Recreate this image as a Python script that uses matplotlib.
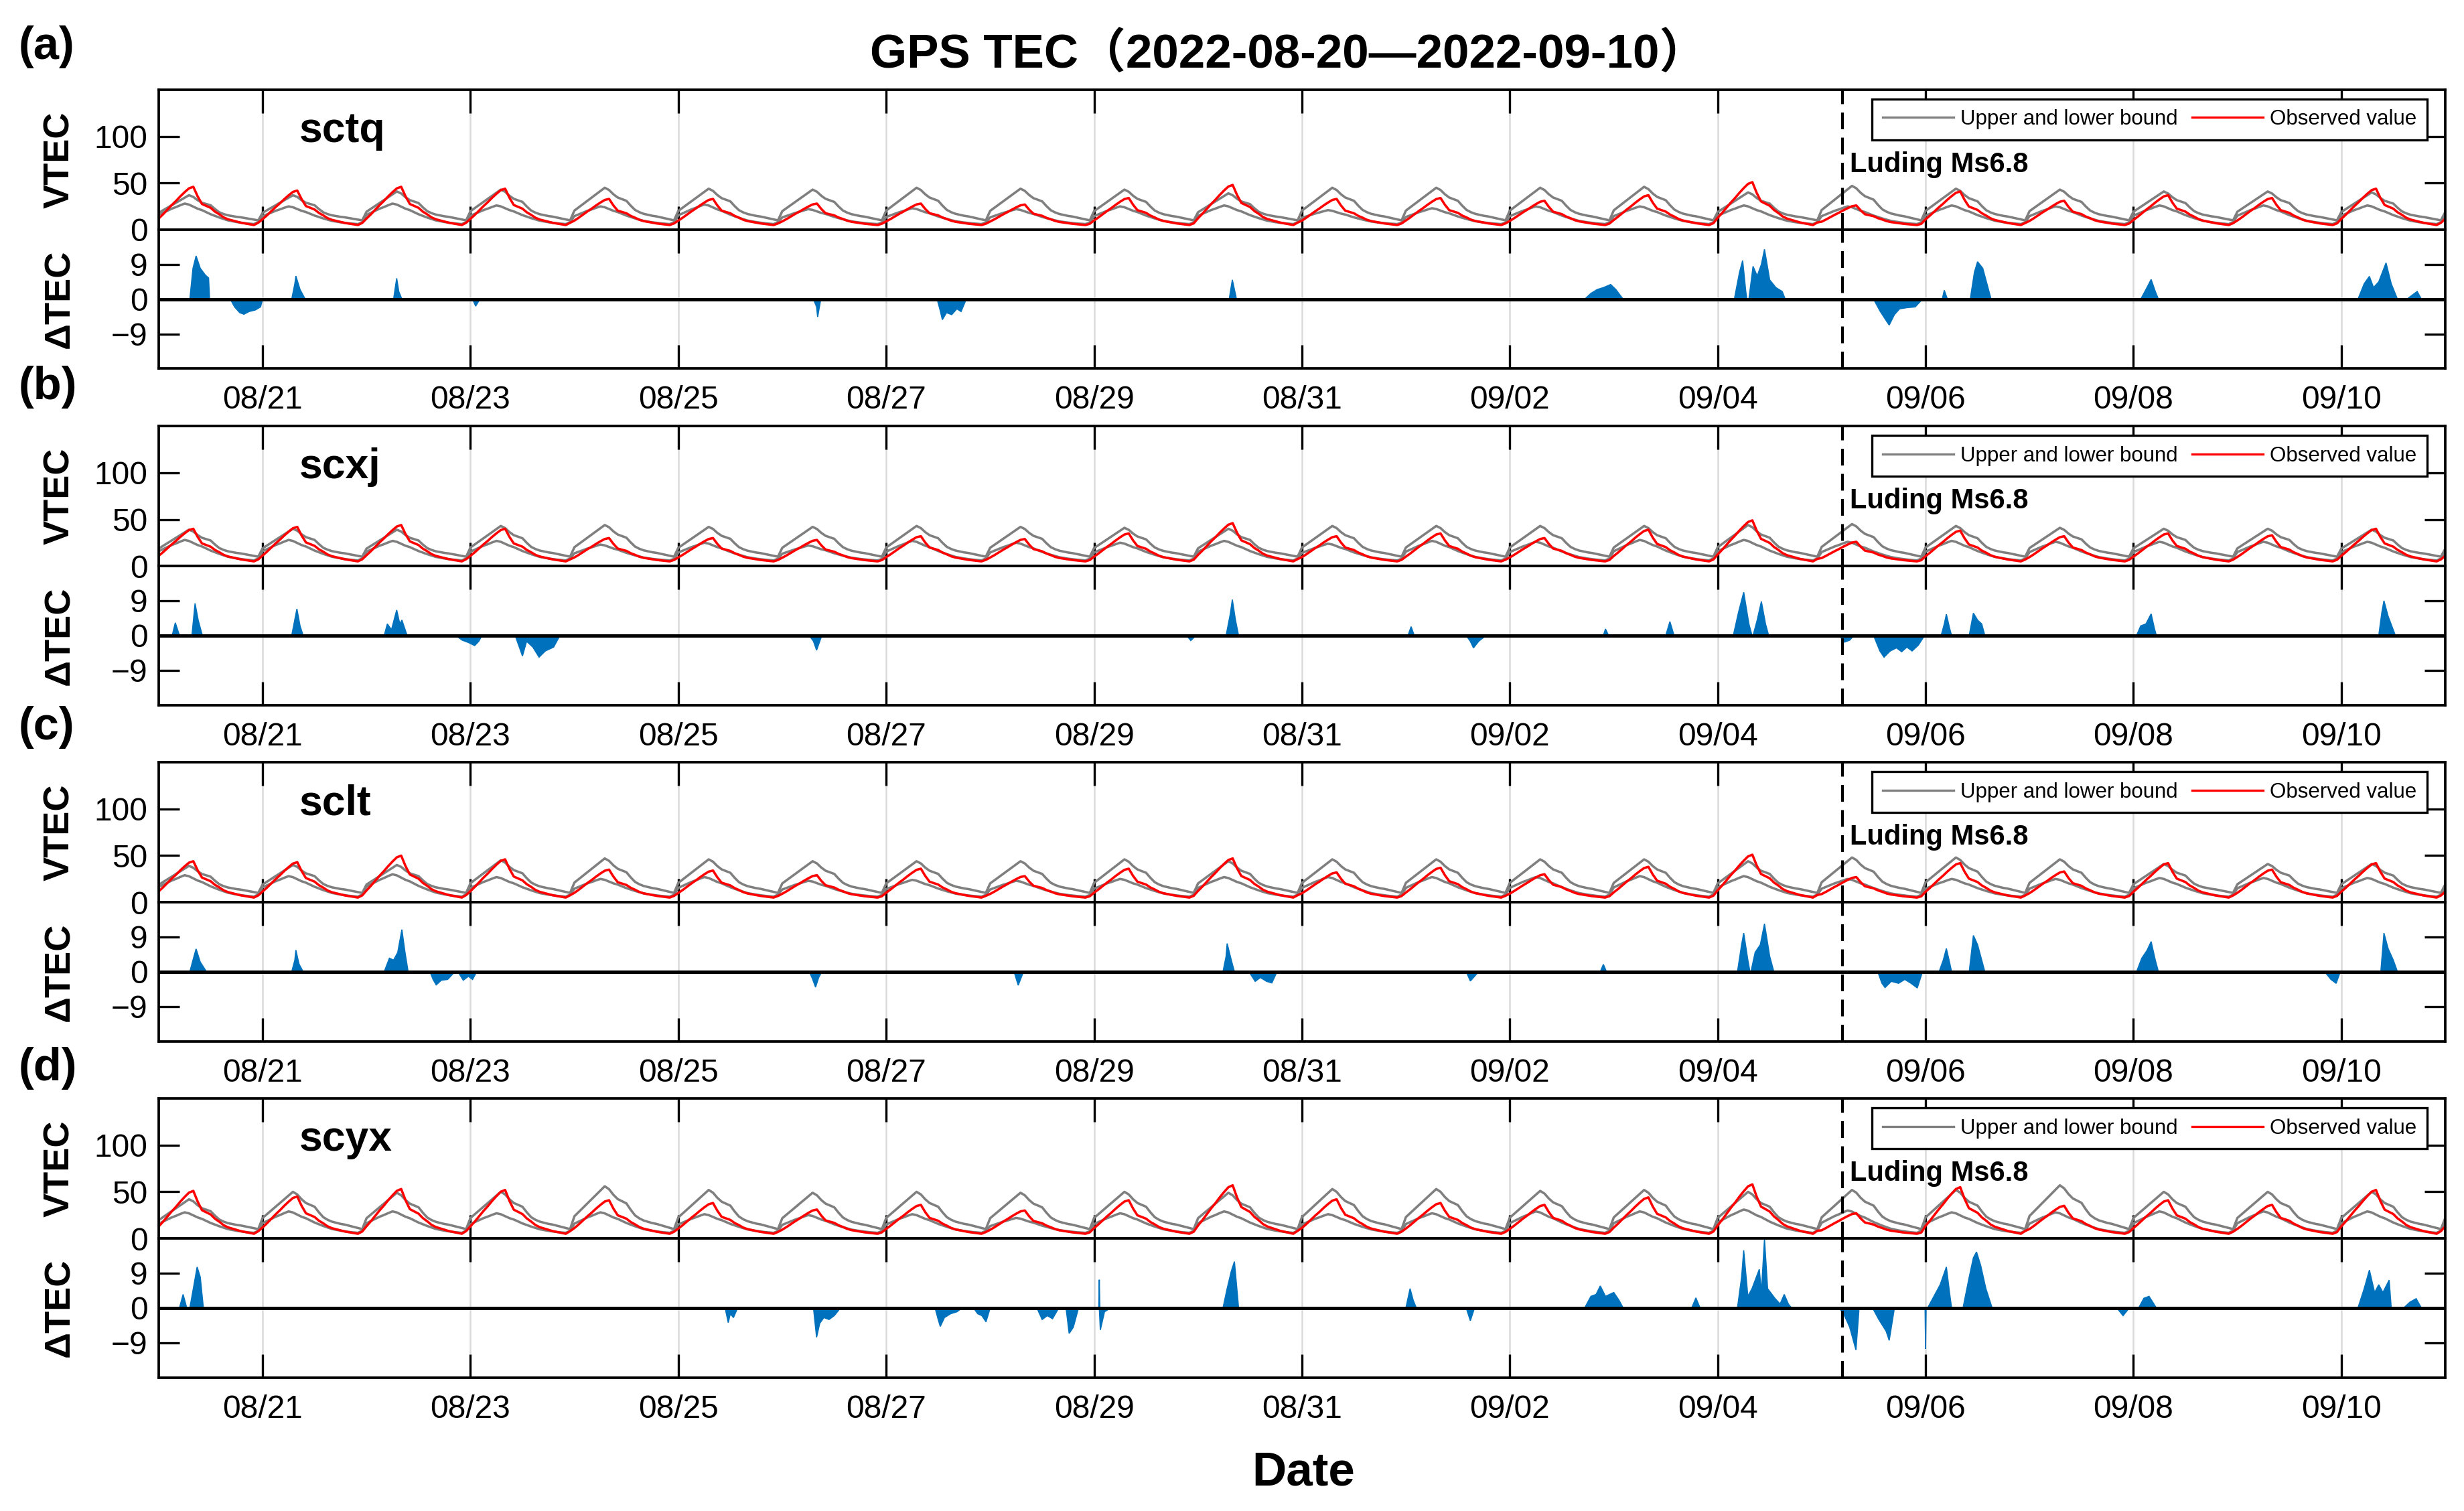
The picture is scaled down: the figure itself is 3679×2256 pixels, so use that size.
import numpy as np
import matplotlib
matplotlib.use("Agg")
import matplotlib.pyplot as plt
from matplotlib.lines import Line2D

plt.rcParams['font.family'] = ['Liberation Sans', 'Noto Sans CJK SC', 'DejaVu Sans']

# ---------------- AXIS / TIME ---------------- #
# x is days since 2022-08-20 00:00 UT
tick_days = [1, 3, 5, 7, 9, 11, 13, 15, 17, 19, 21]
tick_labels = ["08/21", "08/23", "08/25", "08/27", "08/29", "08/31",
               "09/02", "09/04", "09/06", "09/08", "09/10"]
quake_day = 16 + 4.87 / 24          # Luding Ms6.8, 2022-09-05 04:52 UT

# typical diurnal shape per UT hour (0 = daily min, 1 = daily max)
shape_upper = [0.30, 0.40, 0.50, 0.60, 0.70, 0.80, 0.90, 1.00, 0.93, 0.80, 0.70, 0.65,
               0.60, 0.45, 0.32, 0.25, 0.20, 0.17, 0.14, 0.12, 0.09, 0.06, 0.03, 0.00]
shape_lower = [0.45, 0.55, 0.65, 0.75, 0.83, 0.92, 1.00, 0.95, 0.85, 0.75, 0.68, 0.58,
               0.48, 0.40, 0.32, 0.25, 0.18, 0.14, 0.10, 0.07, 0.04, 0.02, 0.00, 0.10]
shape_obs = [0.17, 0.28, 0.40, 0.52, 0.63, 0.75, 0.86, 0.96, 1.00, 0.75, 0.55, 0.50,
             0.45, 0.35, 0.28, 0.20, 0.15, 0.12, 0.09, 0.06, 0.04, 0.02, 0.00, 0.06]
base_upper, base_lower, base_obs = 10, 6, 5

# ---------------- DAILY PEAK VTEC (08/20 ... 09/10) ---------------- #
sctq_upper = [37, 37, 41, 43, 45, 44, 43, 45, 44, 43, 39, 45, 45, 45, 46, 40, 47, 44, 43, 41, 41, 40]
sctq_lower = [28, 25, 28, 26, 25, 27, 22, 23, 22, 25, 26, 21, 23, 25, 25, 26, 25, 26, 25, 26, 26, 26]
sctq_obs = [46, 42, 46, 44, 33, 33, 28, 28, 27, 34, 48, 33, 34, 31, 37, 51, 26, 41, 31, 37, 34, 44]

scxj_upper = [39, 40, 39, 43, 44, 42, 42, 43, 42, 41, 40, 43, 43, 43, 43, 44, 45, 43, 41, 40, 40, 39]
scxj_lower = [28, 28, 27, 27, 23, 25, 22, 27, 25, 25, 27, 24, 27, 26, 28, 28, 26, 27, 26, 26, 26, 26]
scxj_obs = [40, 42, 44, 40, 30, 30, 28, 32, 29, 35, 46, 32, 35, 30, 39, 49, 26, 38, 32, 35, 33, 40]

sclt_upper = [39, 40, 40, 45, 47, 46, 44, 44, 44, 46, 44, 46, 46, 46, 46, 44, 48, 48, 46, 41, 41, 41]
sclt_lower = [29, 28, 30, 27, 25, 27, 23, 24, 23, 25, 27, 27, 27, 27, 28, 28, 25, 25, 25, 26, 26, 26]
sclt_obs = [44, 43, 50, 46, 35, 34, 29, 36, 28, 36, 47, 32, 37, 30, 38, 51, 27, 42, 33, 42, 35, 42]

scyx_upper = [42, 50, 49, 50, 56, 52, 49, 50, 49, 50, 49, 53, 53, 51, 52, 50, 52, 52, 57, 50, 50, 50]
scyx_lower = [28, 29, 29, 27, 28, 26, 25, 26, 22, 27, 29, 26, 27, 29, 29, 31, 30, 28, 28, 29, 29, 29]
scyx_obs = [51, 45, 53, 52, 41, 38, 31, 36, 30, 41, 57, 42, 38, 36, 44, 58, 27, 55, 35, 41, 36, 52]

# ---------------- ΔTEC ANOMALIES (day, value) ---------------- #
sctq_dtec = [
    ([0.30, 0.33, 0.36, 0.40, 0.45, 0.48, 0.49], [0, 8, 11.2, 8, 6.2, 5.5, 0]),
    ([0.69, 0.73, 0.78, 0.82, 0.87, 0.93, 0.98, 1.0], [0, -2, -3.5, -3.9, -3.2, -2.8, -2, 0]),
    ([1.28, 1.31, 1.32, 1.36, 1.41], [0, 4, 6, 2.5, 0]),
    ([2.26, 2.29, 2.31, 2.34], [0, 5.4, 2, 0]),
    ([3.02, 3.05, 3.09], [0, -1.8, 0]),
    ([6.30, 6.33, 6.34, 6.37], [0, -2, -4.6, 0]),
    ([7.49, 7.52, 7.54, 7.58, 7.63, 7.68, 7.72, 7.77], [0, -3, -5.3, -3.5, -4, -2.5, -3.2, 0]),
    ([10.30, 10.33, 10.35, 10.37], [0, 5, 2.5, 0]),
    ([13.72, 13.78, 13.84, 13.90, 13.97, 14.02, 14.09], [0, 1.5, 2.5, 3, 3.8, 2.5, 0]),
    ([15.16, 15.21, 15.24, 15.27, 15.28], [0, 7, 10, 2, 0]),
    ([15.30, 15.34, 15.38, 15.42, 15.45, 15.50, 15.56, 15.62, 15.65], [0, 8.5, 6, 9, 12.9, 5, 3, 2, 0]),
    ([16.50, 16.56, 16.62, 16.65, 16.70, 16.75, 16.82, 16.90, 16.97], [0, -3, -5.5, -6.7, -4, -2.5, -2.2, -2, 0]),
    ([17.16, 17.18, 17.21], [0, 2.3, 0]),
    ([17.43, 17.47, 17.50, 17.55, 17.60, 17.63], [0, 7, 9.7, 8, 3, 0]),
    ([19.07, 19.12, 19.17, 19.21, 19.24], [0, 2.5, 5.1, 2, 0]),
    ([21.16, 21.22, 21.27, 21.31, 21.36, 21.43, 21.48, 21.54], [0, 4, 5.9, 3, 4.5, 9.4, 4, 0]),
    ([21.63, 21.68, 21.73, 21.77], [0, 1, 2, 0]),
]

scxj_dtec = [
    ([0.13, 0.16, 0.20], [0, 3.3, 0]),
    ([0.32, 0.35, 0.38, 0.42], [0, 8.3, 4, 0]),
    ([1.28, 1.33, 1.36, 1.39], [0, 6.9, 2.5, 0]),
    ([2.17, 2.20, 2.24, 2.29, 2.32, 2.34, 2.39], [0, 3, 1.5, 6.6, 3, 4, 0]),
    ([2.86, 2.92, 2.98, 3.04, 3.08, 3.11], [0, -1.2, -1.8, -2.6, -1.5, 0]),
    ([3.43, 3.47, 3.50, 3.54, 3.60, 3.66, 3.72, 3.80, 3.86], [0, -3, -5.3, -1.5, -3, -5.6, -4, -3, 0]),
    ([6.26, 6.30, 6.33, 6.38], [0, -1.5, -3.8, 0]),
    ([9.89, 9.93, 9.98], [0, -1.3, 0]),
    ([10.27, 10.31, 10.33, 10.36, 10.39], [0, 5.5, 9.3, 4, 0]),
    ([12.02, 12.05, 12.08], [0, 2.3, 0]),
    ([12.58, 12.62, 12.65, 12.70, 12.77], [0, -1.5, -3.2, -1.5, 0]),
    ([13.90, 13.92, 13.95], [0, 1.7, 0]),
    ([14.50, 14.54, 14.58], [0, 3.6, 0]),
    ([15.15, 15.20, 15.25, 15.30, 15.33], [0, 6, 11.2, 3, 0]),
    ([15.34, 15.38, 15.42, 15.46, 15.49], [0, 4, 8.8, 3, 0]),
    ([16.17, 16.22, 16.27, 16.31], [0, -1.7, -1.2, 0]),
    ([16.50, 16.56, 16.60, 16.66, 16.72, 16.77, 16.82, 16.87, 16.93, 16.99],
     [0, -4, -5.6, -4, -3.2, -4.2, -3, -4, -2.5, 0]),
    ([17.15, 17.18, 17.20, 17.23, 17.25], [0, 3, 5.5, 2, 0]),
    ([17.42, 17.46, 17.50, 17.54, 17.57], [0, 5.8, 4, 3, 0]),
    ([19.03, 19.07, 19.12, 19.17, 19.20, 19.22], [0, 2.5, 3, 5.6, 2, 0]),
    ([21.36, 21.39, 21.41, 21.45, 21.52], [0, 6, 9, 5, 0]),
]

sclt_dtec = [
    ([0.30, 0.34, 0.36, 0.40, 0.46], [0, 4, 5.9, 2.5, 0]),
    ([1.28, 1.31, 1.32, 1.35, 1.39], [0, 3, 5.6, 2, 0]),
    ([2.17, 2.22, 2.26, 2.30, 2.34, 2.37, 2.40], [0, 3.5, 3, 5, 10.9, 5, 0]),
    ([2.61, 2.64, 2.67, 2.72, 2.78, 2.85], [0, -2, -3.4, -2.2, -2, 0]),
    ([2.88, 2.93, 2.98, 3.02, 3.06], [0, -2.2, -1.2, -2, 0]),
    ([6.26, 6.29, 6.32, 6.35, 6.38], [0, -1.8, -4, -1.5, 0]),
    ([8.23, 8.27, 8.32], [0, -3.5, 0]),
    ([10.24, 10.27, 10.28, 10.32, 10.35], [0, 4, 7.3, 3, 0]),
    ([10.49, 10.55, 10.60, 10.66, 10.71, 10.76], [0, -2.5, -1.5, -2.5, -2.9, 0]),
    ([12.58, 12.62, 12.65, 12.70], [0, -2.4, -1.5, 0]),
    ([13.87, 13.90, 13.93], [0, 1.9, 0]),
    ([15.19, 15.23, 15.25, 15.29, 15.31], [0, 7, 10, 3, 0]),
    ([15.32, 15.36, 15.41, 15.45, 15.50, 15.54], [0, 5, 7, 12.4, 4, 0]),
    ([16.54, 16.58, 16.61, 16.67, 16.74, 16.80, 16.86, 16.92, 16.97], [0, -3, -4.1, -2.5, -3, -2, -3, -4.2, 0]),
    ([17.13, 17.17, 17.20, 17.23, 17.25], [0, 3, 6, 2.5, 0]),
    ([17.42, 17.46, 17.50, 17.54, 17.57], [0, 9.4, 7, 3, 0]),
    ([19.03, 19.08, 19.13, 19.17, 19.21, 19.24], [0, 3.5, 5.5, 7.8, 3, 0]),
    ([20.84, 20.90, 20.95, 20.99], [0, -2, -3, 0]),
    ([21.38, 21.41, 21.45, 21.50, 21.54], [0, 10, 6, 3, 0]),
]

scyx_dtec = [
    ([0.20, 0.235, 0.27], [0, 3.5, 0]),
    ([0.30, 0.34, 0.37, 0.40, 0.43], [0, 6, 10.6, 8, 0]),
    ([5.45, 5.48, 5.50, 5.53, 5.57], [0, -3.8, -1.5, -2.5, 0]),
    ([6.30, 6.33, 6.36, 6.40, 6.45, 6.50, 6.56], [0, -7.6, -4, -2.5, -3, -2, 0]),
    ([7.47, 7.50, 7.52, 7.56, 7.62, 7.68, 7.73], [0, -3, -4.8, -2.5, -1.5, -1, 0]),
    ([7.84, 7.88, 7.92, 7.96, 8.00], [0, -1.5, -2, -3.6, 0]),
    ([8.45, 8.50, 8.55, 8.60, 8.66], [0, -3, -2, -2.8, 0]),
    ([8.73, 8.76, 8.80, 8.85], [0, -6.6, -5, 0]),
    ([9.045, 9.05, 9.055], [0, 7.3, 0]),
    ([9.05, 9.06, 9.10, 9.16], [0, -5.7, -1, 0]),
    ([10.24, 10.28, 10.32, 10.35, 10.37, 10.39], [0, 5, 9.5, 12, 6, 0]),
    ([12.00, 12.04, 12.07, 12.10], [0, 5, 2, 0]),
    ([12.58, 12.62, 12.66], [0, -3.3, 0]),
    ([13.72, 13.78, 13.83, 13.87, 13.92, 14.00, 14.05, 14.09], [0, 3, 3.5, 5.7, 3, 4, 2, 0]),
    ([14.75, 14.79, 14.83], [0, 2.6, 0]),
    ([15.19, 15.23, 15.25, 15.29, 15.33, 15.40, 15.42, 15.45, 15.48, 15.55, 15.60, 15.64, 15.68, 15.71],
     [0, 8, 14.9, 3, 5, 10, 4, 17.8, 5, 2.5, 1, 3.5, 1, 0]),
    ([16.17, 16.22, 16.27, 16.33, 16.36], [0, -2, -5, -10.9, 0]),
    ([16.49, 16.55, 16.62, 16.65, 16.70], [0, -3, -6, -8.4, 0]),
    ([16.995, 17.0, 17.005], [0, -10.6, 0]),
    ([17.02, 17.08, 17.14, 17.20, 17.23, 17.25], [0, 3, 6, 10.6, 4, 0]),
    ([17.36, 17.42, 17.46, 17.49, 17.53, 17.58, 17.64], [0, 8, 13, 14.5, 11, 5, 0]),
    ([18.84, 18.90, 18.96], [0, -2, 0]),
    ([19.05, 19.10, 19.15, 19.22], [0, 2.5, 3, 0]),
    ([21.16, 21.22, 21.27, 21.32, 21.36, 21.40, 21.46, 21.48], [0, 5, 9.8, 4, 6, 4, 7.2, 0]),
    ([21.60, 21.66, 21.72, 21.77], [0, 1.5, 2.4, 0]),
]

stations = ["sctq", "scxj", "sclt", "scyx"]
panel_letters = ["(a)", "(b)", "(c)", "(d)"]
uppers = [sctq_upper, scxj_upper, sclt_upper, scyx_upper]
lowers = [sctq_lower, scxj_lower, sclt_lower, scyx_lower]
observed = [sctq_obs, scxj_obs, sclt_obs, scyx_obs]
anomalies = [sctq_dtec, scxj_dtec, sclt_dtec, scyx_dtec]


def daily_curve(peaks, base, shape):
    vals = []
    for p in peaks:
        for s in shape:
            vals.append(base + (p - base) * s)
    vals.append(base + (peaks[-1] - base) * shape[0])
    t = np.arange(len(vals)) / 24.0
    return t, np.array(vals)


# ---------------- FIGURE ---------------- #
fig = plt.figure(figsize=(3679 / 300, 2256 / 300), dpi=300)

left, width = 0.0644, 0.928
mids = [0.848, 0.6254, 0.4029, 0.1804]
h_v, h_d = 0.0925, 0.092
letter_y = [0.969, 0.744, 0.5186, 0.293]

grey = "#7f7f7f"
red = "#ff0000"
blue = "#0072bd"

for i in range(4):
    ax_v = fig.add_axes([left, mids[i], width, h_v])
    ax_d = fig.add_axes([left, mids[i] - h_d, width, h_d])

    # ---- VTEC ----
    t, up = daily_curve(uppers[i], base_upper, shape_upper)
    _, lo = daily_curve(lowers[i], base_lower, shape_lower)
    _, ob = daily_curve(observed[i], base_obs, shape_obs)
    ax_v.plot(t, lo, color=grey, lw=0.85)
    ax_v.plot(t, up, color=grey, lw=0.85)
    ax_v.plot(t, ob, color=red, lw=0.85)
    ax_v.set_ylim(0, 150)
    ax_v.set_yticks([0, 50, 100])
    ax_v.set_ylabel("VTEC", fontsize=13, fontweight="bold")

    ax_v.text(1.35, 94, stations[i], fontsize=15, fontweight="bold", va="baseline")
    ax_v.text(16.27, 70, "Luding Ms6.8", fontsize=10, fontweight="bold", va="center")

    handles = [Line2D([], [], color=grey, lw=0.8), Line2D([], [], color=red, lw=0.8)]
    leg = ax_v.legend(handles, ["Upper and lower bound", "Observed value"],
                      loc="upper right", bbox_to_anchor=(0.992, 0.935), ncol=2,
                      fontsize=7.5, fancybox=False, edgecolor="k", framealpha=1,
                      borderaxespad=0, handlelength=3.4, handletextpad=0.3,
                      columnspacing=0.7, borderpad=0.5)
    leg.get_frame().set_linewidth(0.8)

    # ---- ΔTEC ----
    for tt, vv in anomalies[i]:
        ax_d.fill(tt, vv, color=blue, lw=0.4)
    ax_d.axhline(0, color="k", lw=1.2)
    ax_d.set_ylim(-18, 18)
    ax_d.set_yticks([-9, 0, 9])
    ax_d.set_yticklabels(["\u22129", "0", "9"])
    ax_d.set_ylabel("ΔTEC", fontsize=13, fontweight="bold")

    for ax in (ax_v, ax_d):
        ax.set_xlim(0, 22)
        ax.set_xticks(tick_days)
        ax.set_xticklabels(tick_labels)
        ax.axvline(quake_day, color="k", lw=1.0, ls=(0, (6, 3)))
        ax.grid(axis="x", color="#dadada", lw=0.6)
        ax.set_axisbelow(True)
        ax.tick_params(axis="x", direction="in", length=8.5, width=0.8,
                       top=True, bottom=True, labelsize=11.5, pad=6)
        ax.tick_params(axis="y", direction="in", length=7.5, width=0.8,
                       left=True, right=True, labelsize=11.5, pad=4)
        ax.yaxis.set_label_coords(-0.036, 0.5)
        for sp in ax.spines.values():
            sp.set_linewidth(0.9)
    ax_v.tick_params(axis="x", labelbottom=False)

    fig.text(0.0076, letter_y[i], panel_letters[i], fontsize=16.5,
             fontweight="bold", ha="left", va="center")

fig.text(0.523, 0.9636, "GPS TEC（2022-08-20—2022-09-10）", ha="center", va="center",
         fontsize=17, fontweight="bold")
fig.text(0.529, 0.025, "Date", ha="center", va="center", fontsize=17, fontweight="bold")

plt.savefig("out.png", dpi=300)
